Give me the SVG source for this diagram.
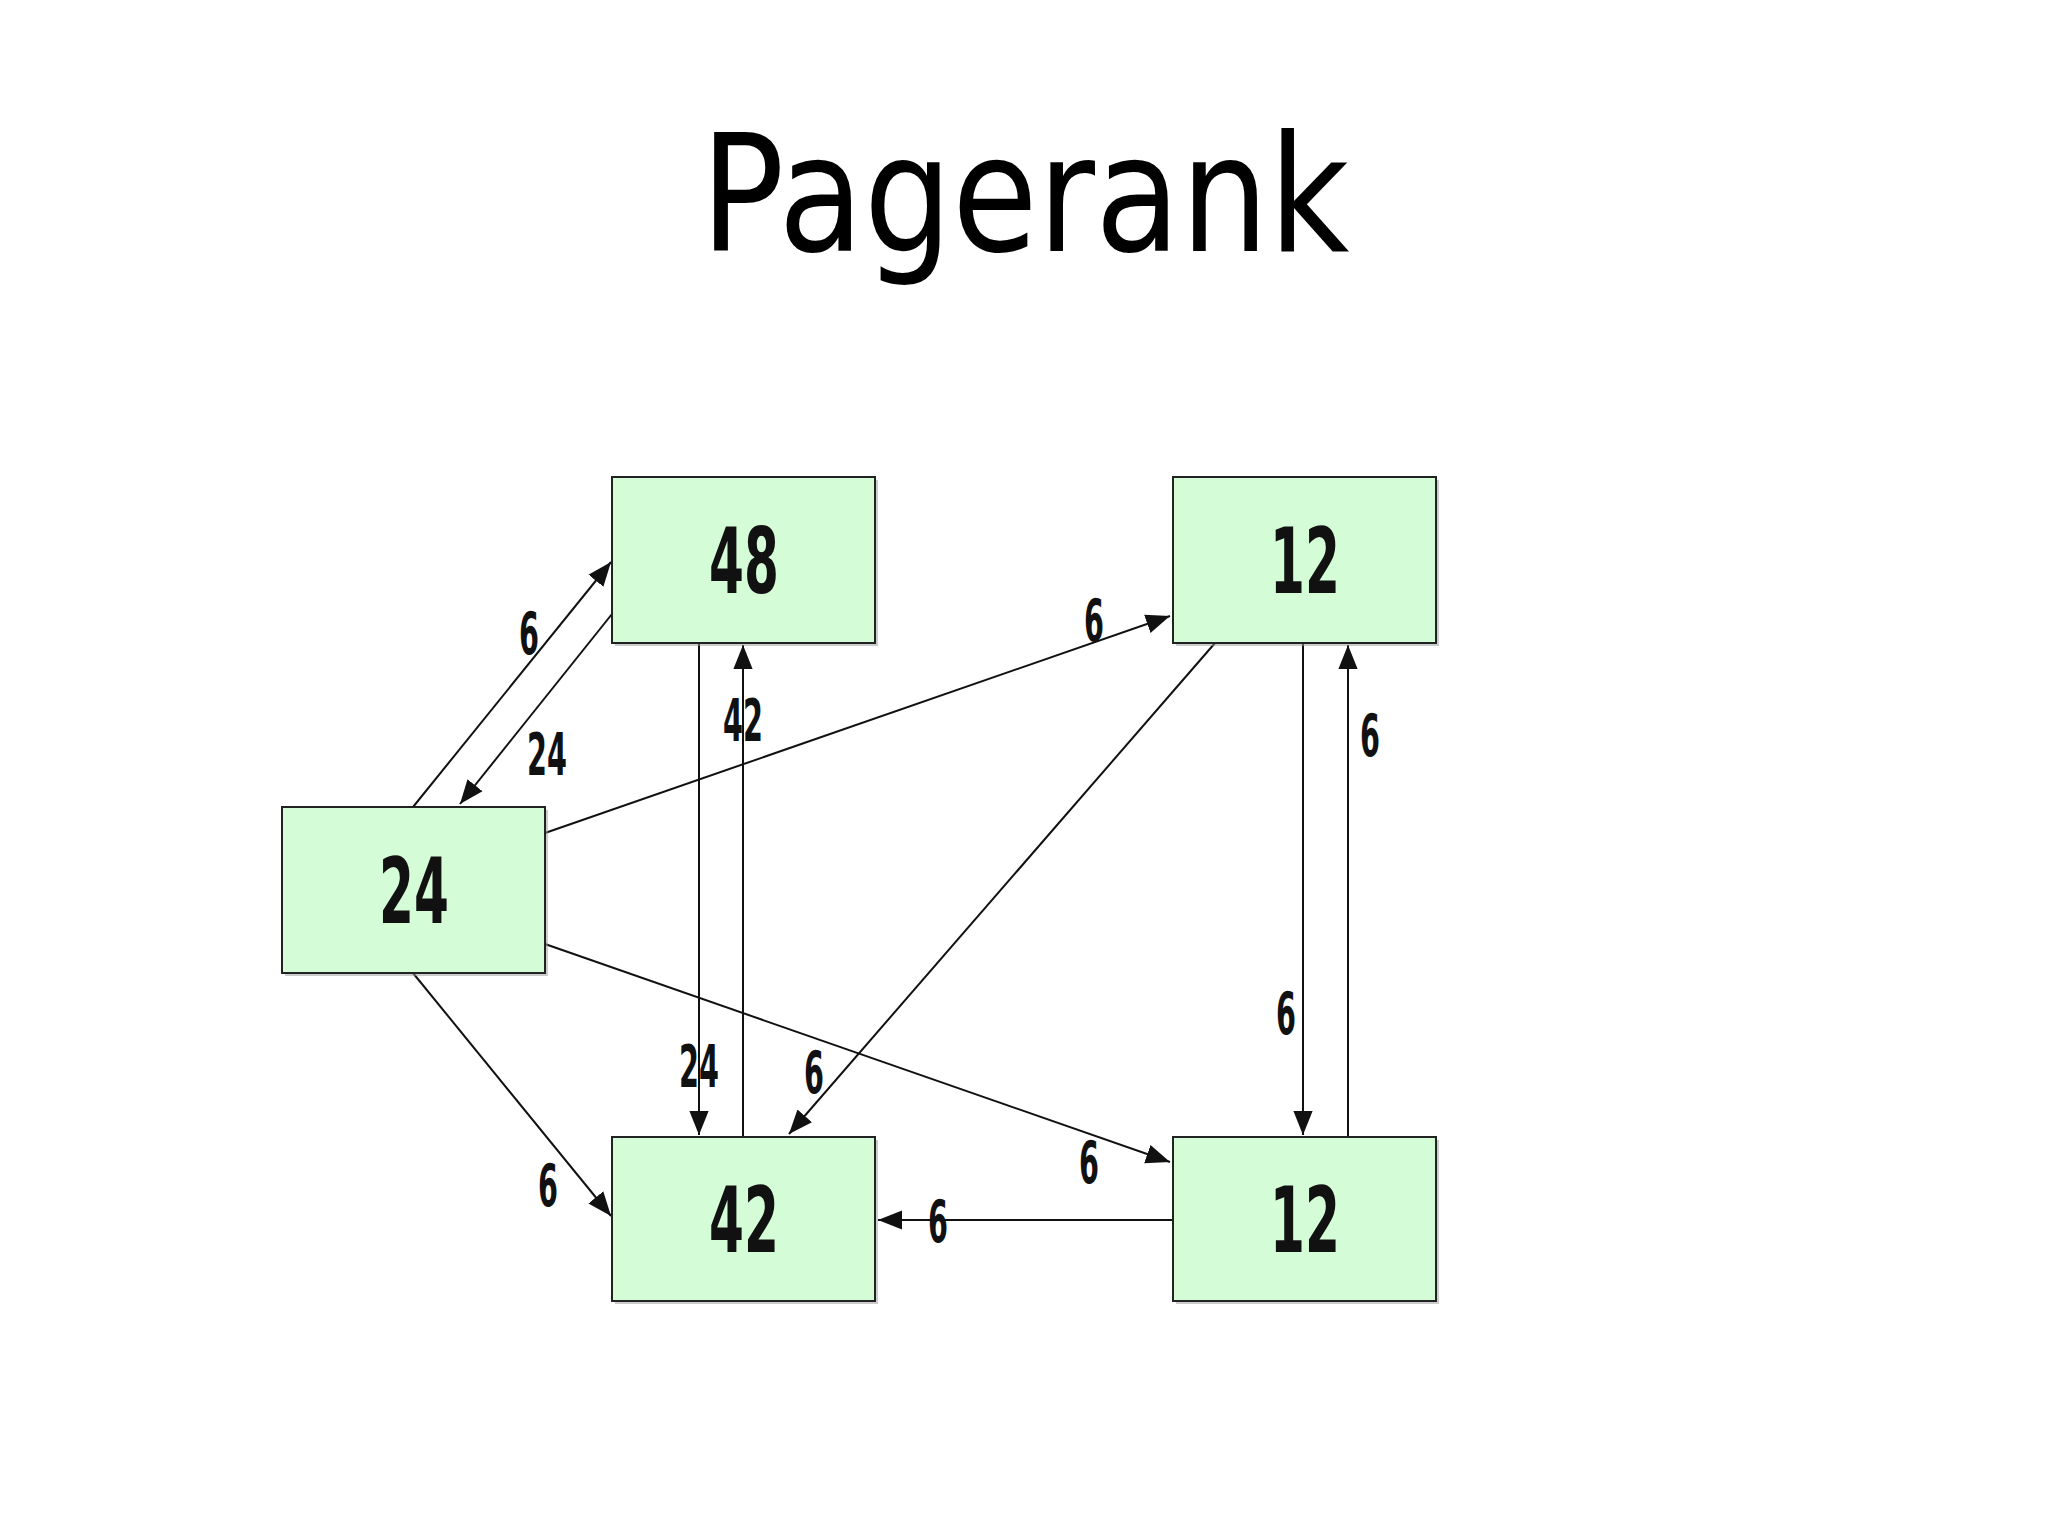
<svg xmlns="http://www.w3.org/2000/svg" width="2048" height="1536" viewBox="0 0 2048 1536">
<style>
.box{fill:#d4fcd6;stroke:#222;stroke-width:2}
.sh{fill:#999;opacity:0.5}
.nl{font-family:"DejaVu Sans Condensed","DejaVu Sans",sans-serif;font-size:90px;font-weight:bold;text-anchor:middle;fill:#111}
.el{font-family:"DejaVu Sans Condensed","DejaVu Sans",sans-serif;font-size:58px;font-weight:bold;text-anchor:middle;fill:#111}
.c{stroke:#111;stroke-width:2;fill:none;marker-end:url(#a)}
</style>
<defs>
<marker id="a" viewBox="0 0 10 10" refX="10" refY="5" markerWidth="24" markerHeight="24" markerUnits="userSpaceOnUse" orient="auto"><path d="M0,1 L10,5 L0,9 z" fill="#111"/></marker>
</defs>
<rect width="2048" height="1536" fill="#fff"/>
<text transform="translate(1025,251) scale(0.86,1)" font-family="'DejaVu Sans',sans-serif" font-size="162" font-weight="500" text-anchor="middle" fill="#000">Pagerank</text>
<g id="connectors">
<line class="c" x1="413" y1="807" x2="611" y2="562"/>
<line class="c" x1="612" y1="614" x2="460" y2="804"/>
<line class="c" x1="699" y1="643" x2="699" y2="1135"/>
<line class="c" x1="743" y1="1137" x2="743" y2="645"/>
<line class="c" x1="545" y1="833" x2="1170" y2="616"/>
<line class="c" x1="1215" y1="643" x2="789" y2="1134"/>
<line class="c" x1="1303" y1="643" x2="1303" y2="1135"/>
<line class="c" x1="1348" y1="1137" x2="1348" y2="645"/>
<line class="c" x1="545" y1="944" x2="1170" y2="1162"/>
<line class="c" x1="413" y1="973" x2="611" y2="1216"/>
<line class="c" x1="1173" y1="1220" x2="878" y2="1220"/>
</g>
<g id="edge-labels">
<text class="el" transform="translate(529,654) scale(0.55,1)">6</text>
<text class="el" transform="translate(547,775) scale(0.55,1)">24</text>
<text class="el" transform="translate(743,741) scale(0.55,1)">42</text>
<text class="el" transform="translate(1094,641) scale(0.55,1)">6</text>
<text class="el" transform="translate(1370,756) scale(0.55,1)">6</text>
<text class="el" transform="translate(1286,1034) scale(0.55,1)">6</text>
<text class="el" transform="translate(699,1087) scale(0.55,1)">24</text>
<text class="el" transform="translate(814,1093) scale(0.55,1)">6</text>
<text class="el" transform="translate(1089,1183) scale(0.55,1)">6</text>
<text class="el" transform="translate(548,1206) scale(0.55,1)">6</text>
<text class="el" transform="translate(938,1242) scale(0.55,1)">6</text>
</g>
<g id="n48"><rect class="sh" x="615" y="480" width="263" height="166"/><rect class="box" x="612" y="477" width="263" height="166"/><text class="nl" transform="translate(744,593) scale(0.62,1)">48</text></g>
<g id="n12a"><rect class="sh" x="1176" y="480" width="263" height="166"/><rect class="box" x="1173" y="477" width="263" height="166"/><text class="nl" transform="translate(1305,593) scale(0.62,1)">12</text></g>
<g id="n24"><rect class="sh" x="285" y="810" width="263" height="166"/><rect class="box" x="282" y="807" width="263" height="166"/><text class="nl" transform="translate(414,923) scale(0.62,1)">24</text></g>
<g id="n42"><rect class="sh" x="615" y="1140" width="263" height="164"/><rect class="box" x="612" y="1137" width="263" height="164"/><text class="nl" transform="translate(744,1252) scale(0.62,1)">42</text></g>
<g id="n12b"><rect class="sh" x="1176" y="1140" width="263" height="164"/><rect class="box" x="1173" y="1137" width="263" height="164"/><text class="nl" transform="translate(1305,1252) scale(0.62,1)">12</text></g>
</svg>
